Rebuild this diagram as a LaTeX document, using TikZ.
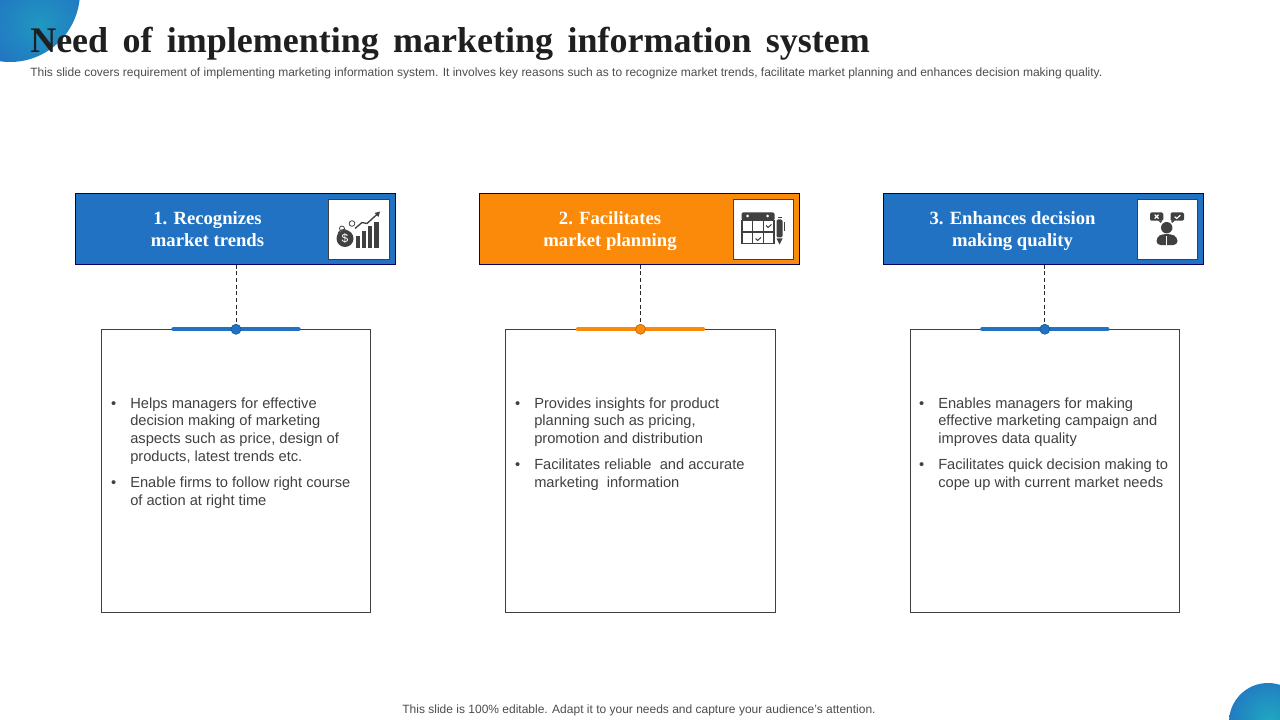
\documentclass[tikz,border=0pt]{standalone}
\usepackage{fontspec}
\setmainfont{Liberation Sans}
\newfontfamily\titlefont{Liberation Serif}
\usetikzlibrary{positioning}
\definecolor{slideblue}{HTML}{2272C3}
\definecolor{slideorange}{HTML}{FB8A0A}
\definecolor{slideteal}{HTML}{1FA8BF}
\definecolor{icongray}{HTML}{404040}
\definecolor{inkgray}{HTML}{404040}
\tikzset{
  head/.style={draw=black!60!blue,line width=0.6pt,minimum width=240.4pt,minimum height=53.6pt,inner sep=0pt,outer sep=0pt},
  headtext/.style={text=white,align=center,font=\titlefont\bfseries\fontsize{14pt}{16.5pt}\selectfont},
  iconbox/.style={draw=inkgray,fill=white,line width=0.6pt,minimum width=45.5pt,minimum height=45.5pt,inner sep=0pt},
  card/.style={draw=inkgray,line width=0.6pt,minimum width=202pt,minimum height=212.6pt,inner sep=0pt,outer sep=0pt},
  point/.style={align=left,inner sep=0pt,text=inkgray,font=\fontsize{11pt}{13.2pt}\selectfont},
  pin/.style={circle,draw=#1!75!black,fill=#1,line width=0.5pt,minimum size=7.5pt,inner sep=0pt},
  link/.style={densely dashed,line width=0.5pt,draw=black!85},
  icon/.style={fill=icongray,draw=none},
  note/.style={inner sep=0pt,text=black!70,font=\fontsize{9pt}{11pt}\selectfont}
}
\newcommand{\dotmark}{\llap{\textbullet\hspace{10.5pt}}}
\begin{document}
\begin{tikzpicture}[x=0.75pt,y=-0.75pt,node distance=9pt]
\useasboundingbox (0,0) rectangle (1280,720);
% corner discs
\begin{scope}
\clip (10,-8) circle (70);
\shade[inner color=slideteal!70!slideblue,outer color=slideblue] (-20,-30) rectangle (100,80);
\end{scope}
\begin{scope}
\clip (1268,722) circle (39);
\shade[inner color=slideteal,outer color=slideblue] (1220,670) rectangle (1320,770);
\end{scope}
% title
\node[anchor=west,inner sep=0pt,text=black!88,font=\titlefont\bfseries\fontsize{27pt}{32pt}\selectfont] (title) at (30,44) {Need\hspace{4pt} of\hspace{4pt} implementing\hspace{4pt} marketing\hspace{4pt} information\hspace{4pt} system};
\node[anchor=west,note] (sub) at (30,73.5) {This slide covers requirement of implementing marketing information system. It involves key reasons such as to recognize market trends, facilitate market planning and enhances decision making quality.};
\node[note] (foot) at (639,710) {This slide is 100\% editable. Adapt it to your needs and capture your audience's attention.};
% header bars
\node[head,fill=slideblue] (head1) at (235.5,229) {};
\node[head,fill=slideorange] (head2) at (639.5,229) {};
\node[head,fill=slideblue] (head3) at (1043.5,229) {};
\node[headtext] (label1) at (207.5,229) {1. Recognizes\\market trends};
\node[headtext] (label2) at (610,231) {2. Facilitates\\market planning};
\node[headtext] (label3) at (1012.5,231) {3. Enhances decision\\making quality};
\node[iconbox] (box1) at (359,229.5) {};
\node[iconbox] (box2) at (763.5,229.5) {};
\node[iconbox] (box3) at (1167.5,229.5) {};
% cards
\node[card] (card1) at (236,471) {};
\node[card] (card2) at (640.5,471) {};
\node[card] (card3) at (1044.8,471) {};
\foreach \n/\c in {1/slideblue,2/slideorange,3/slideblue}{
  \draw[\c,line width=3pt,line cap=round] ([xshift=-47pt]card\n.north) -- ([xshift=47pt]card\n.north);
  \node[pin=\c] (pin\n) at (card\n.north) {};
  \draw[link] (head\n.south -| pin\n) -- (pin\n);
}
% card texts
\node[point,anchor=north west] (item11) at (130,397.5) {\dotmark Helps managers for effective\\decision making of marketing\\aspects such as price, design of\\products, latest trends etc.};
\node[point,below=of item11.south west,anchor=north west] (item12) {\dotmark Enable firms to follow right course\\of action at right time};
\node[point,anchor=north west] (item21) at (534,397.5) {\dotmark Provides insights for product\\planning such as pricing,\\promotion and distribution};
\node[point,below=of item21.south west,anchor=north west] (item22) {\dotmark Facilitates reliable\ \ and accurate\\marketing\ \ information};
\node[point,anchor=north west] (item31) at (938,397.5) {\dotmark Enables managers for making\\effective marketing campaign and\\improves data quality};
\node[point,below=of item31.south west,anchor=north west] (item32) {\dotmark Facilitates quick decision making to\\cope up with current market needs};
% icon 1
\begin{scope}[shift={(box1.center)}]
\fill[icon] (-14,9) circle (8.5);
\node[text=white,inner sep=0pt,font=\fontsize{9pt}{9pt}\selectfont] (dollar) at (-14,9) {\$};
\fill[icon] (-3,7) rectangle (1,18);
\fill[icon] (2.5,2) rectangle (7,18);
\fill[icon] (8.5,-3) rectangle (13,18);
\fill[icon] (14.5,-7) rectangle (19.5,18);
\draw[icongray,line width=1pt] (-4,-1) -- (3,-7) -- (8,-6) -- (19,-16);
\fill[icon] (21,-18) -- (15.5,-16.5) -- (19.5,-12.5) -- cycle;
\draw[icongray,line width=0.6pt] (-17,-1) circle (2.5) (-7,-6) circle (2.8);
\draw[icongray,line width=0.6pt] (-21,4) arc (200:320:6);
\end{scope}
% icon 2
\begin{scope}[shift={(box2.center)}]
\fill[icon,rounded corners=1pt] (-22,-17) rectangle (11,-9);
\fill[white] (-16,-13.5) circle (1.5) (4,-13.5) circle (1.5);
\draw[icongray,line width=1.2pt] (-21.5,-9) rectangle (10.5,14);
\draw[icongray,line width=1.2pt] (-11,-9) -- (-11,14) (0,-9) -- (0,14) (-21.5,2.5) -- (10.5,2.5);
\draw[icongray,line width=0.8pt] (2.5,-4) -- (4.5,-2) -- (8,-5) (-8,9) -- (-6,11) -- (-2.5,8);
\fill[icon,rounded corners=1pt] (13,-10) rectangle (19,8);
\fill[icon] (13,9) -- (19,9) -- (16,15) -- cycle;
\fill[icon] (14,-12.5) rectangle (18,-11);
\draw[icongray,line width=0.5pt] (20.5,-7) -- (20.5,2);
\end{scope}
% icon 3
\begin{scope}[shift={(box3.center)}]
\fill[icon,rounded corners=1pt] (-17.5,-17) rectangle (-4.2,-8.8);
\fill[icon] (-9.5,-9) -- (-5.5,-9) -- (-6.5,-6.5) -- cycle;
\fill[icon,rounded corners=1pt] (3,-17) rectangle (16.5,-8.8);
\fill[icon] (3.5,-9) -- (7.5,-9) -- (4.5,-6.5) -- cycle;
\draw[white,line width=0.9pt] (-12.8,-14.8) -- (-9,-11) (-9,-14.8) -- (-12.8,-11);
\draw[white,line width=0.9pt] (7.2,-12.8) -- (9.2,-11) -- (12.8,-14.3);
\fill[icon,rounded corners=3pt] (-11,15.5) -- (-11,7.5) -- (-5,4.5) -- (3.5,4.5) -- (10,7.5) -- (10,15.5) -- cycle;
\fill[icon] (-0.8,-1.8) circle (5.7);
\draw[white,line width=1pt] (-0.8,7) -- (-0.8,15.5);
\end{scope}
\end{tikzpicture}
\end{document}
